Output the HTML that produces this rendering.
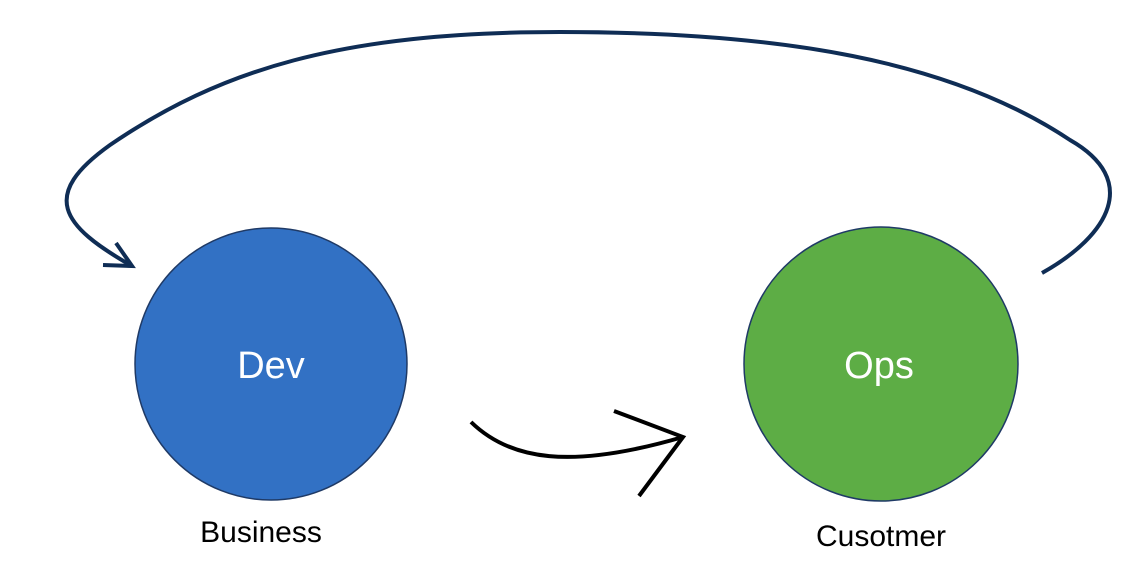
<!DOCTYPE html>
<html><head><style>body{margin:0;background:#fff}</style></head><body>
<svg width="1131" height="566" viewBox="0 0 1131 566" xmlns="http://www.w3.org/2000/svg">
<circle cx="271" cy="364" r="136" fill="#3271c4" stroke="#1f3a66" stroke-width="1.5"/>
<circle cx="881" cy="364" r="137" fill="#5dad45" stroke="#1f3a66" stroke-width="1.5"/>
<text x="271" y="378" font-family="Liberation Sans, sans-serif" font-size="38" fill="#fff" text-anchor="middle">Dev</text>
<text x="879" y="378" font-family="Liberation Sans, sans-serif" font-size="38" fill="#fff" text-anchor="middle">Ops</text>
<text x="261" y="542" font-family="Liberation Sans, sans-serif" font-size="30" fill="#000" text-anchor="middle">Business</text>
<text x="881" y="546" font-family="Liberation Sans, sans-serif" font-size="30" fill="#000" text-anchor="middle">Cusotmer</text>
<path d="M1042 273 C1110 235 1140 180 1070 140 C950 60 780 32 560 32 C340 32 220 70 110 145 C40 195 60 225 132 266" fill="none" stroke="#0f2d55" stroke-width="4"/>
<path d="M116 243 L132 266 L103 265" fill="none" stroke="#0f2d55" stroke-width="4"/>
<path d="M471 422 C510 460 570 470 683 437" fill="none" stroke="#000" stroke-width="4"/>
<path d="M614 411 L683 437 L639 496" fill="none" stroke="#000" stroke-width="4"/>
</svg>
</body></html>
